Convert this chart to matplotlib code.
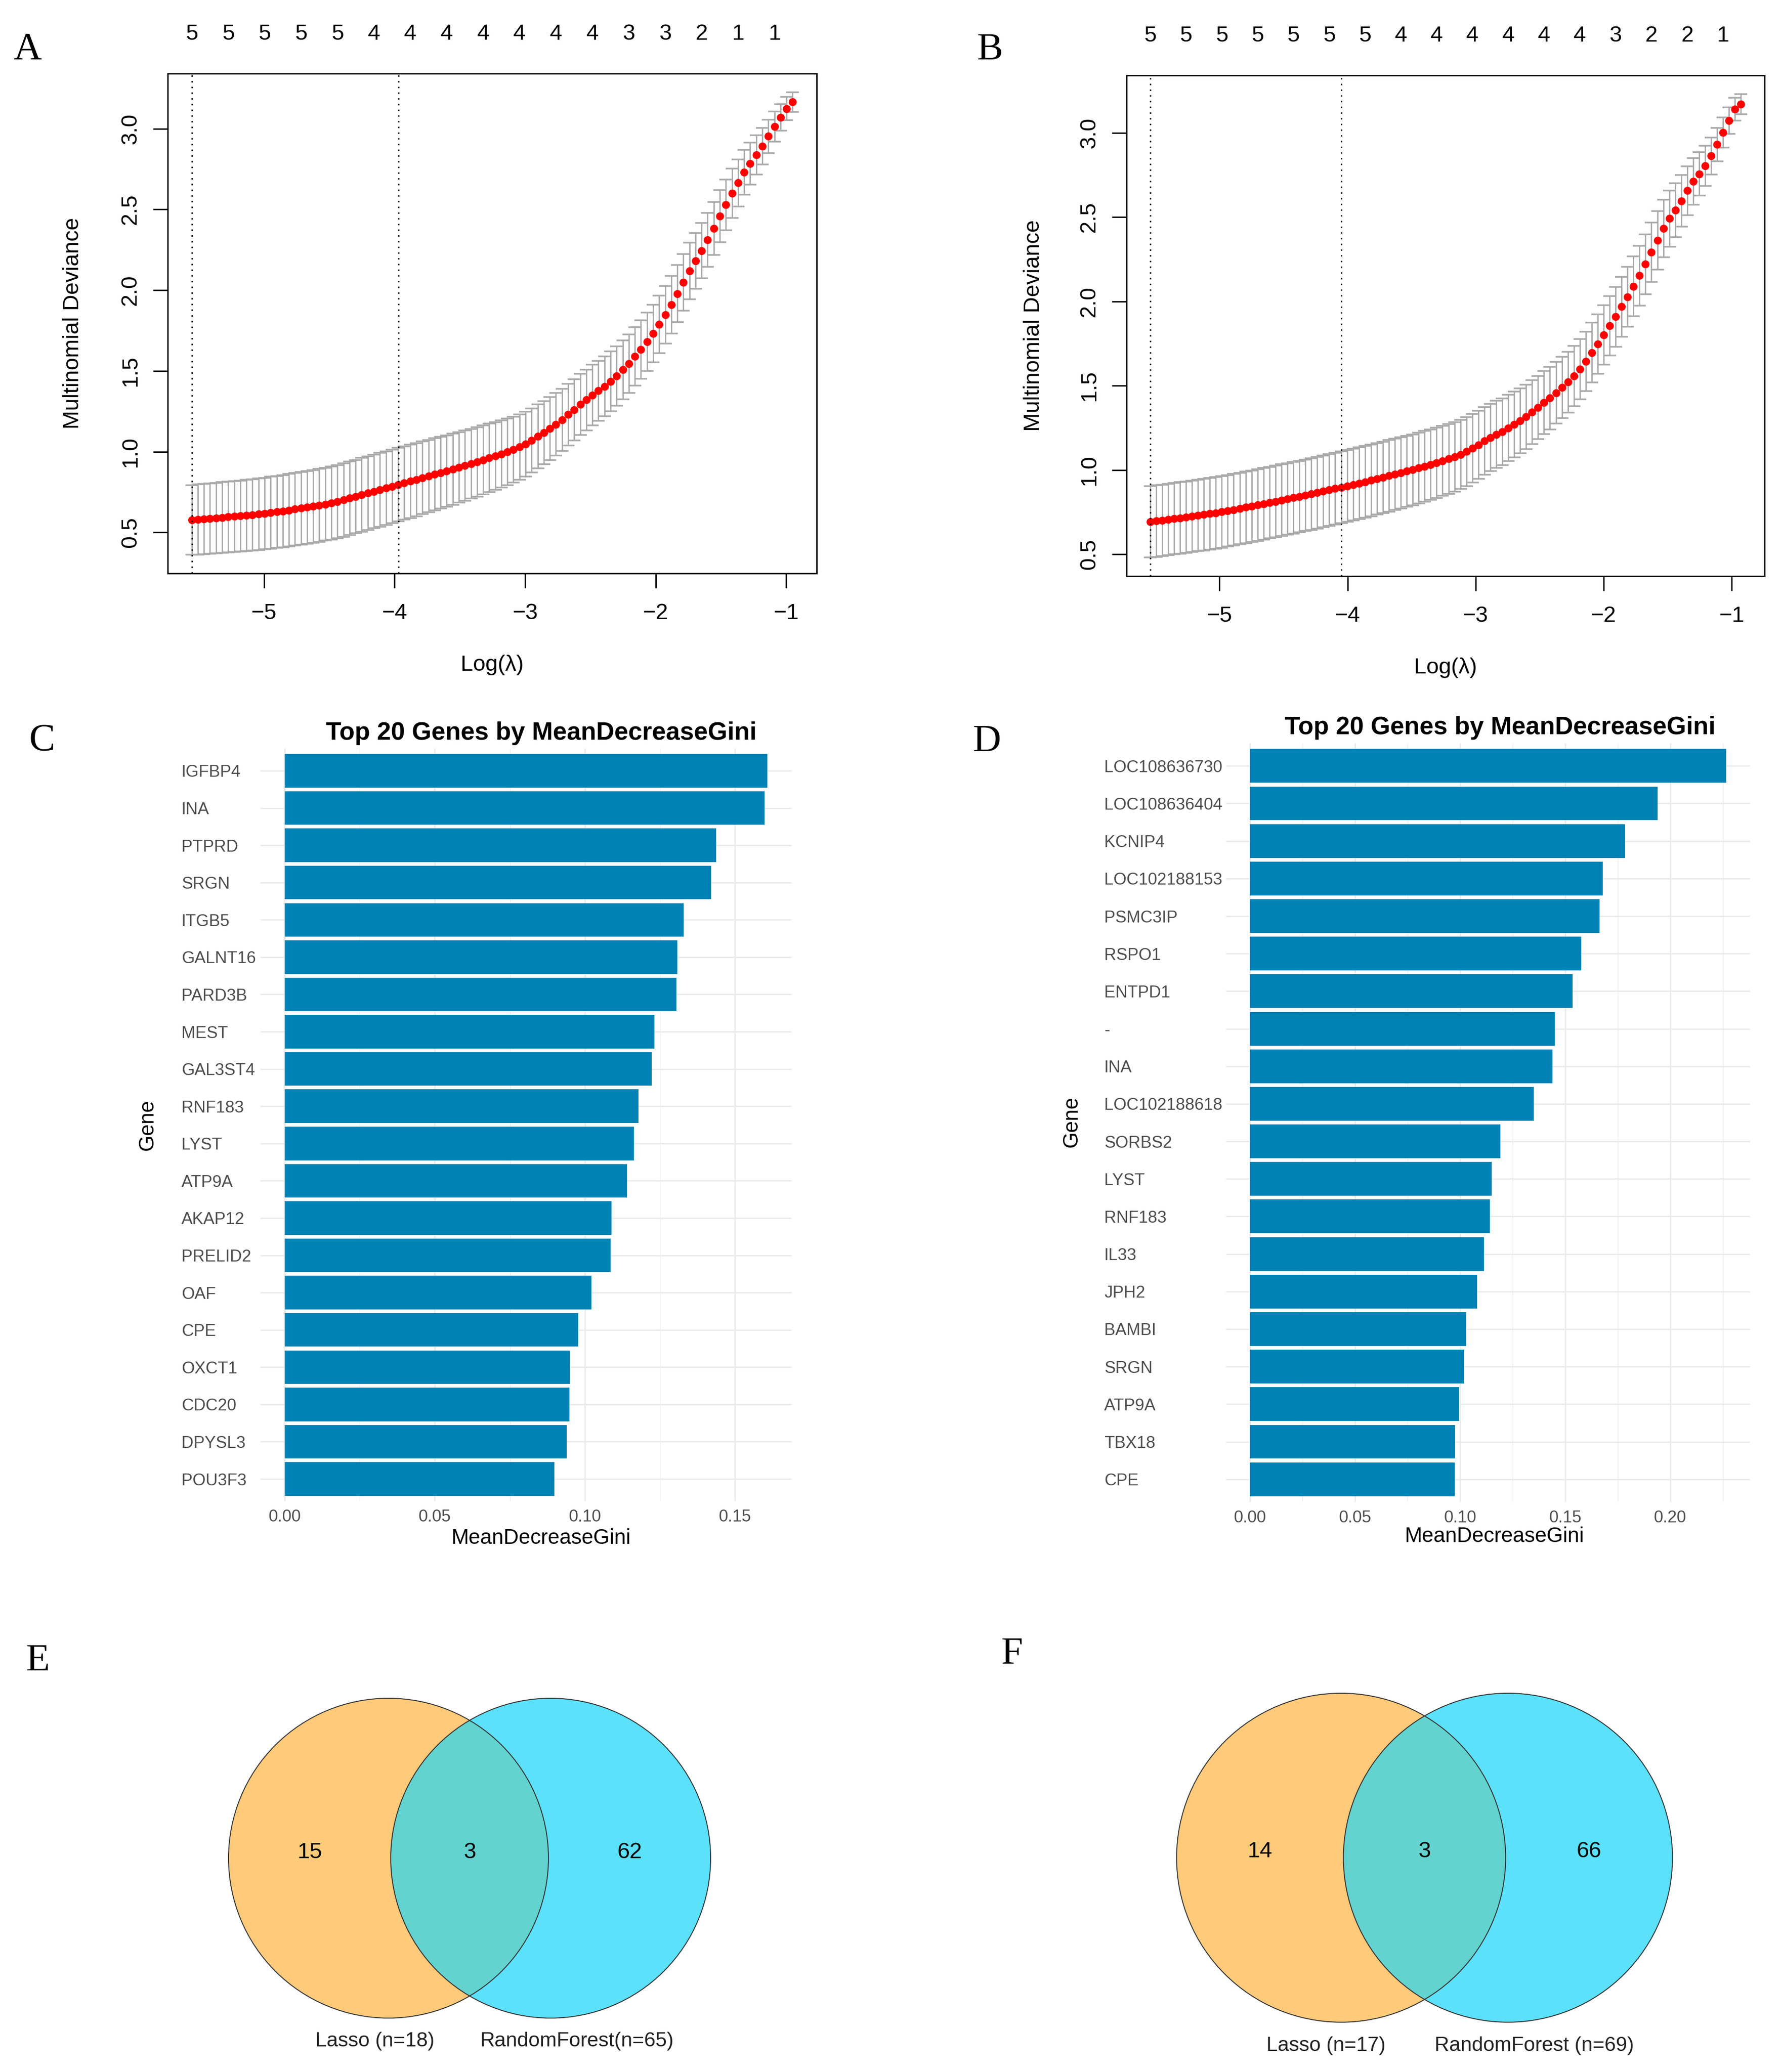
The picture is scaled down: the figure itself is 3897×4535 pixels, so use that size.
import numpy as np
import matplotlib
matplotlib.use("Agg")
import matplotlib.pyplot as plt
from matplotlib.patches import Circle

plt.rcParams['font.family'] = ['Liberation Sans', 'DejaVu Sans']

W, H, DPI = 3897, 4535, 300

# ── data: LASSO cross-validation (panels A, B) ─────────────────────────────
# log(lambda) of the first and last of the 100 glmnet lambdas
LOGLAM_A = (-5.554, -0.95)
LOGLAM_B = (-5.541, -0.928)

CVM_A = [0.577, 0.580, 0.583, 0.586, 0.589, 0.592, 0.596, 0.599, 0.602, 0.606,
         0.609, 0.613, 0.617, 0.622, 0.627, 0.632, 0.638, 0.644, 0.650, 0.656,
         0.662, 0.668, 0.675, 0.682, 0.691, 0.701, 0.712, 0.722, 0.733, 0.743,
         0.754, 0.764, 0.775, 0.785, 0.796, 0.806, 0.817, 0.827, 0.838, 0.849,
         0.860, 0.870, 0.881, 0.892, 0.903, 0.914, 0.925, 0.937, 0.949, 0.961,
         0.973, 0.986, 0.999, 1.013, 1.029, 1.048, 1.070, 1.094, 1.118, 1.143,
         1.170, 1.198, 1.230, 1.260, 1.293, 1.321, 1.351, 1.377, 1.404, 1.436,
         1.469, 1.507, 1.546, 1.590, 1.633, 1.681, 1.732, 1.789, 1.848, 1.910,
         1.979, 2.048, 2.119, 2.182, 2.245, 2.312, 2.383, 2.458, 2.529, 2.600,
         2.665, 2.730, 2.784, 2.837, 2.892, 2.953, 3.013, 3.070, 3.125, 3.165]
CVSD_A = [0.216, 0.217, 0.217, 0.218, 0.218, 0.219, 0.219, 0.220, 0.220, 0.221,
          0.221, 0.222, 0.222, 0.223, 0.223, 0.224, 0.224, 0.224, 0.225, 0.225,
          0.225, 0.226, 0.226, 0.226, 0.227, 0.227, 0.227, 0.227, 0.228, 0.228,
          0.228, 0.228, 0.228, 0.228, 0.228, 0.227, 0.227, 0.226, 0.225, 0.224,
          0.223, 0.222, 0.221, 0.220, 0.219, 0.218, 0.216, 0.215, 0.213, 0.212,
          0.210, 0.208, 0.206, 0.205, 0.203, 0.201, 0.199, 0.198, 0.196, 0.195,
          0.193, 0.192, 0.191, 0.190, 0.189, 0.188, 0.187, 0.186, 0.185, 0.184,
          0.183, 0.182, 0.181, 0.181, 0.180, 0.180, 0.179, 0.179, 0.178, 0.178,
          0.177, 0.176, 0.175, 0.173, 0.171, 0.168, 0.165, 0.161, 0.157, 0.152,
          0.146, 0.139, 0.131, 0.122, 0.113, 0.103, 0.093, 0.083, 0.072, 0.062]

CVM_B = [0.693, 0.698, 0.702, 0.707, 0.712, 0.716, 0.721, 0.726, 0.731, 0.736,
         0.741, 0.746, 0.752, 0.758, 0.765, 0.772, 0.779, 0.786, 0.793, 0.800,
         0.807, 0.814, 0.822, 0.829, 0.836, 0.843, 0.851, 0.858, 0.866, 0.874,
         0.882, 0.890, 0.898, 0.906, 0.914, 0.922, 0.930, 0.939, 0.948, 0.957,
         0.966, 0.975, 0.984, 0.993, 1.002, 1.012, 1.022, 1.033, 1.044, 1.055,
         1.067, 1.079, 1.093, 1.110, 1.130, 1.150, 1.173, 1.193, 1.212, 1.228,
         1.250, 1.270, 1.292, 1.316, 1.343, 1.371, 1.401, 1.427, 1.459, 1.490,
         1.522, 1.558, 1.599, 1.645, 1.697, 1.748, 1.802, 1.855, 1.909, 1.969,
         2.028, 2.090, 2.153, 2.221, 2.292, 2.363, 2.433, 2.492, 2.542, 2.596,
         2.657, 2.713, 2.756, 2.804, 2.863, 2.931, 3.002, 3.072, 3.141, 3.171]
CVSD_B = [0.212, 0.212, 0.212, 0.212, 0.212, 0.212, 0.212, 0.212, 0.212, 0.212,
          0.212, 0.212, 0.212, 0.212, 0.212, 0.212, 0.212, 0.212, 0.212, 0.212,
          0.212, 0.212, 0.212, 0.212, 0.212, 0.212, 0.212, 0.212, 0.212, 0.212,
          0.212, 0.212, 0.212, 0.212, 0.212, 0.212, 0.212, 0.212, 0.212, 0.212,
          0.212, 0.211, 0.211, 0.211, 0.210, 0.210, 0.210, 0.209, 0.209, 0.208,
          0.207, 0.206, 0.205, 0.204, 0.203, 0.202, 0.201, 0.200, 0.199, 0.198,
          0.196, 0.195, 0.193, 0.191, 0.190, 0.188, 0.186, 0.185, 0.183, 0.182,
          0.180, 0.179, 0.178, 0.177, 0.177, 0.176, 0.176, 0.176, 0.177, 0.177,
          0.178, 0.178, 0.178, 0.177, 0.176, 0.174, 0.171, 0.166, 0.160, 0.153,
          0.146, 0.138, 0.129, 0.119, 0.109, 0.099, 0.089, 0.078, 0.068, 0.060]

# number of non-zero coefficients shown on the top axis (every 6th lambda)
NZERO_A = [5, 5, 5, 5, 5, 4, 4, 4, 4, 4, 4, 4, 3, 3, 2, 1, 1]
NZERO_B = [5, 5, 5, 5, 5, 5, 5, 4, 4, 4, 4, 4, 4, 3, 2, 2, 1]

# lambda.min / lambda.1se
VLINES_A = [-5.554, -3.97]
VLINES_B = [-5.541, -4.048]

# ── data: random forest importance (panels C, D) ───────────────────────────
GENES_C = ["IGFBP4", "INA", "PTPRD", "SRGN", "ITGB5", "GALNT16", "PARD3B",
           "MEST", "GAL3ST4", "RNF183", "LYST", "ATP9A", "AKAP12", "PRELID2",
           "OAF", "CPE", "OXCT1", "CDC20", "DPYSL3", "POU3F3"]
GINI_C = [0.1608, 0.1598, 0.1437, 0.1421, 0.1329, 0.1308, 0.1305, 0.1232,
          0.1222, 0.1179, 0.1163, 0.1141, 0.1089, 0.1085, 0.1022, 0.0977,
          0.0950, 0.0948, 0.0940, 0.0898]

GENES_D = ["LOC108636730", "LOC108636404", "KCNIP4", "LOC102188153", "PSMC3IP",
           "RSPO1", "ENTPD1", "-", "INA", "LOC102188618", "SORBS2", "LYST",
           "RNF183", "IL33", "JPH2", "BAMBI", "SRGN", "ATP9A", "TBX18", "CPE"]
GINI_D = [0.2266, 0.1939, 0.1786, 0.1680, 0.1663, 0.1576, 0.1535, 0.1451,
          0.1440, 0.1351, 0.1191, 0.1150, 0.1142, 0.1114, 0.1081, 0.1029,
          0.1018, 0.0995, 0.0976, 0.0975]

# ── data: Venn (panels E, F) ───────────────────────────────────────────────
VENN_E = [15, 3, 62]
SETS_E = ["Lasso (n=18)", "RandomForest(n=65)"]
VENN_F = [14, 3, 66]
SETS_F = ["Lasso (n=17)", "RandomForest (n=69)"]

BAR_COLOR = "#0082B5"
ORANGE, CYAN, OVERLAP = "#FFCA7A", "#5BE1F9", "#63D3CF"
R_FS = 11.7

fig = plt.figure(figsize=(W / DPI, H / DPI), dpi=DPI)


def px_box(l, t, r, b):
    return [l / W, 1 - b / H, (r - l) / W, (b - t) / H]


def ftext(x, y, s, **kw):
    fig.text(x / W, 1 - y / H, s, ha="center", va="center", **kw)


def cv_panel(box, loglam, cvm, cvsd, nzero, vlines):
    ax = fig.add_axes(px_box(*box))
    x = np.linspace(loglam[0], loglam[1], len(cvm))
    cvm, cvsd = np.asarray(cvm), np.asarray(cvsd)
    lo, hi = cvm - cvsd, cvm + cvsd
    ax.errorbar(x, cvm, yerr=cvsd, fmt="none", ecolor="darkgrey",
                elinewidth=0.7, capsize=3.3, capthick=0.85, zorder=1)
    ax.plot(x, cvm, "o", color="red", ms=4.2, mec="none", zorder=2)
    for v in vlines:
        ax.axvline(v, color="black", lw=0.75, ls=(0, (1, 3)), zorder=3)
    xr, yr = x.max() - x.min(), hi.max() - lo.min()
    ax.set_xlim(x.min() - 0.04 * xr, x.max() + 0.04 * xr)
    ax.set_ylim(lo.min() - 0.04 * yr, hi.max() + 0.04 * yr)
    ax.set_xticks([-5, -4, -3, -2, -1])
    yt = [0.5, 1.0, 1.5, 2.0, 2.5, 3.0]
    ax.set_yticks(yt)
    ax.set_yticklabels([f"{v:.1f}" for v in yt], rotation=90, va="center")
    ax.tick_params(axis="x", direction="out", length=7.7, width=0.75,
                   labelsize=R_FS, pad=7.9)
    ax.tick_params(axis="y", direction="out", length=7.7, width=0.75,
                   labelsize=R_FS, pad=6.5)
    for s in ax.spines.values():
        s.set_linewidth(0.75)
    for k, i in enumerate(range(0, len(cvm), 6)):
        ax.annotate(str(nzero[k]), xy=(x[i], 1), xycoords=("data", "axes fraction"),
                    xytext=(0, 20.8), textcoords="offset points",
                    ha="center", va="center", fontsize=R_FS)
    return ax


# ── A / B ──────────────────────────────────────────────────────────────────
cv_panel((367, 161, 1787, 1255), LOGLAM_A, CVM_A, CVSD_A, NZERO_A, VLINES_A)
ftext(159, 708, "Multinomial Deviance", rotation=90, fontsize=R_FS)
ftext(1077, 1455, "Log(λ)", fontsize=R_FS)

cv_panel((2465, 165, 3861, 1261), LOGLAM_B, CVM_B, CVSD_B, NZERO_B, VLINES_B)
ftext(2261, 713, "Multinomial Deviance", rotation=90, fontsize=R_FS)
ftext(3163, 1462, "Log(λ)", fontsize=R_FS)


def rf_panel(box, genes, vals, label_x, xticks, minor):
    ax = fig.add_axes(px_box(*box))
    n = len(genes)
    pos = np.arange(n)[::-1]
    ax.barh(pos, vals, height=0.9, color=BAR_COLOR, zorder=2)
    vmax = max(vals)
    ax.set_xlim(-0.05 * vmax, 1.05 * vmax)
    ax.set_ylim(-0.6, n - 0.4)
    ax.set_xticks(xticks)
    ax.set_xticklabels([f"{t:.2f}" for t in xticks])
    ax.set_xticks(minor, minor=True)
    ax.grid(which="major", color="#EBEBEB", lw=0.7, zorder=0)
    ax.grid(which="minor", axis="x", color="#EBEBEB", lw=0.35, zorder=0)
    ax.set_axisbelow(True)
    for s in ax.spines.values():
        s.set_visible(False)
    ax.set_yticks(pos)
    ax.set_yticklabels(genes, ha="left", fontsize=8.8, color="#4D4D4D")
    pad = (box[0] - label_x) / DPI * 72
    ax.tick_params(axis="y", length=0, pad=pad)
    ax.tick_params(axis="x", which="both", length=0, pad=4.2, labelsize=8.8,
                   labelcolor="#4D4D4D")
    return ax


# ── C / D ──────────────────────────────────────────────────────────────────
rf_panel((570, 1638, 1732, 3286), GENES_C, GINI_C, 397,
         [0.0, 0.05, 0.10, 0.15], [0.025, 0.075, 0.125])
ftext(1184, 1605, "Top 20 Genes by MeanDecreaseGini", fontsize=13.2, fontweight="bold")
ftext(1184, 3367, "MeanDecreaseGini", fontsize=11)
ftext(323, 2462, "Gene", rotation=90, fontsize=11)

rf_panel((2683, 1627, 3829, 3287), GENES_D, GINI_D, 2416,
         [0.0, 0.05, 0.10, 0.15, 0.20], [0.025, 0.075, 0.125, 0.175, 0.225])
ftext(3282, 1593, "Top 20 Genes by MeanDecreaseGini", fontsize=13.2, fontweight="bold")
ftext(3270, 3363, "MeanDecreaseGini", fontsize=11)
ftext(2345, 2455, "Gene", rotation=90, fontsize=11)


def venn_panel(cx, cy, r, counts, sets, lab_dx):
    ax = fig.add_axes(px_box(cx - 2 * r, cy - 1.3 * r, cx + 2 * r, cy + 1.3 * r))
    ax.set_xlim(-2, 2)
    ax.set_ylim(-1.3, 1.3)
    ax.axis("off")
    d = 0.507
    left = Circle((-d, 0), 1, fc=ORANGE, ec="none")
    right = Circle((d, 0), 1, fc=CYAN, ec="none")
    ax.add_patch(left)
    ax.add_patch(right)
    lens = Circle((d, 0), 1, fc=OVERLAP, ec="none")
    ax.add_patch(lens)
    lens.set_clip_path(left)
    for c in (-d, d):
        ax.add_patch(Circle((c, 0), 1, fc="none", ec="#333333", lw=0.5))
    for xx, v in zip((-1.0, 0.0, 1.0), counts):
        ax.text(xx, 0.037, str(v), ha="center", va="center", fontsize=11.8)
    for xx, s in zip(lab_dx, sets):
        ax.text(xx, -1.143, s, ha="center", va="center", fontsize=10.7,
                color="#222222")
    return ax


# ── E / F ──────────────────────────────────────────────────────────────────
venn_panel(1027.5, 4067, 350, VENN_E, SETS_E, (-0.593, 0.67))
venn_panel(3117, 4066, 360, VENN_F, SETS_F, (-0.60, 0.667))

# panel letters
for lab, x, y in [("A", 60, 110), ("B", 2166, 110), ("C", 92, 1622),
                  ("D", 2159, 1625), ("E", 83, 3637), ("F", 2214, 3621)]:
    ftext(x, y, lab, fontsize=20.5, family="Liberation Serif")

fig.savefig("out.png", dpi=DPI)
